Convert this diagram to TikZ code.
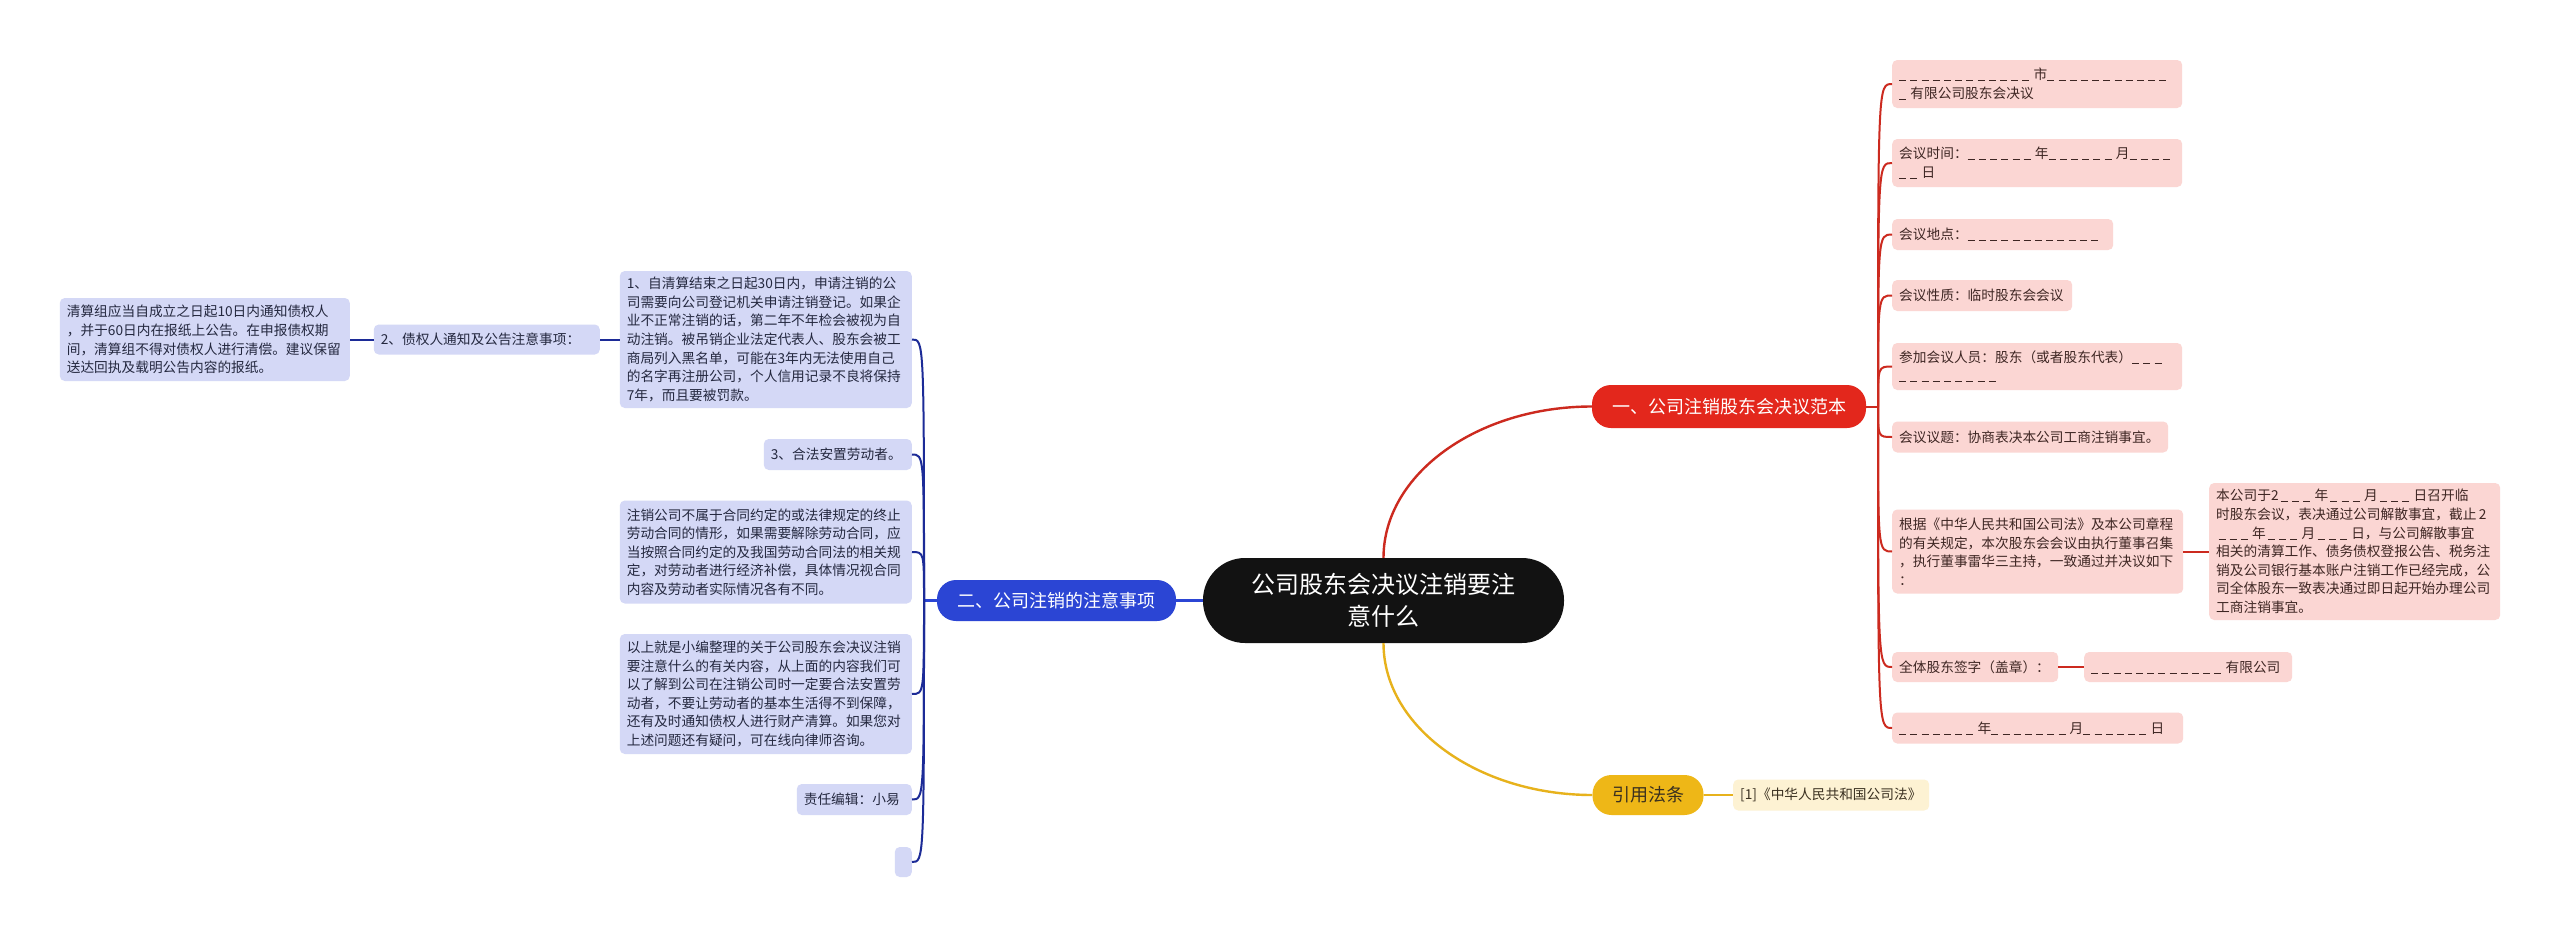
\documentclass[tikz,border=0pt]{standalone}
\usepackage{fontspec}
\newfontfamily\cjk{Noto Sans CJK SC}
\newcommand\usc{\makebox[11.2pt][l]{\rule[-1.5pt]{7pt}{1pt}}}
\definecolor{redmain}{HTML}{E3271C}
\definecolor{redline}{HTML}{CC2A1F}
\definecolor{pinkfill}{HTML}{FBD6D3}
\definecolor{pinktext}{HTML}{3E2623}
\definecolor{bluemain}{HTML}{2B45D4}
\definecolor{blueline}{HTML}{1C2B97}
\definecolor{bluefill}{HTML}{D4D8F6}
\definecolor{bluetext}{HTML}{24283F}
\definecolor{yelmain}{HTML}{EEB717}
\definecolor{yelline}{HTML}{E7B21C}
\definecolor{yelfill}{HTML}{FDF2D3}
\definecolor{yeltext}{HTML}{3A3020}
\definecolor{ctrfill}{HTML}{121212}
\tikzset{
  smalltext/.style={font=\cjk\fontsize{13.7}{18.6}\selectfont},
  pk/.style={rectangle, rounded corners=5pt, fill=pinkfill, text=pinktext, smalltext, align=left, inner xsep=7pt, inner ysep=0pt, anchor=west},
  bl/.style={rectangle, rounded corners=5pt, fill=bluefill, text=bluetext, smalltext, align=left, inner xsep=7pt, inner ysep=0pt, anchor=east},
  yb/.style={rectangle, rounded corners=5pt, fill=yelfill, text=yeltext, smalltext, align=left, inner xsep=7pt, inner ysep=0pt, anchor=west},
  pill/.style={rectangle, rounded corners=19pt, inner sep=0pt, font=\cjk\fontsize{18}{22}\selectfont, align=center},
  ctr/.style={rectangle, rounded corners=42pt, fill=ctrfill, text=white, inner sep=0pt, font=\cjk\fontsize{24}{32}\selectfont, align=center, minimum width=361, minimum height=85},
  rmain/.style={draw=redline, line width=2.4pt},
  rsub/.style={draw=redline, line width=2pt},
  bmain/.style={draw=bluemain, line width=2.4pt},
  bsub/.style={draw=blueline, line width=2pt},
  ymain/.style={draw=yelline, line width=2.4pt},
}
\begin{document}
\begin{tikzpicture}[x=1pt,y=-1pt]
\fill[white] (0,0) rectangle (2560,937);
\useasboundingbox (0,0) rectangle (2560,937);

% central
\node[ctr] (c) at (1383.5,600.5) {公司股东会决议注销要注\\意什么};

% main branches
\node[pill, fill=redmain, text=white, minimum width=274, minimum height=43] (r) at (1729,406.5) {一、公司注销股东会决议范本};
\node[pill, fill=bluemain, text=white, minimum width=239, minimum height=41] (b) at (1056.5,600.5) {二、公司注销的注意事项};
\node[pill, fill=yelmain, text=yeltext, minimum width=111, minimum height=40] (y) at (1648,795) {引用法条};
\node[yb, text width=182, minimum height=31] (y1) at (1733,795) {[1]《中华人民共和国公司法》};

% red children
\node[pk, text width=276, minimum height=48] (r1) at (1892,84) {\usc\usc\usc\usc\usc\usc\usc\usc\usc\usc\usc\usc 市\usc\usc\usc\usc\usc\usc\usc\usc\usc\usc\usc\\\usc 有限公司股东会决议};
\node[pk, text width=276, minimum height=48] (r2) at (1892,163) {会议时间：\usc\usc\usc\usc\usc\usc 年\usc\usc\usc\usc\usc\usc 月\usc\usc\usc\usc\\\usc\usc 日};
\node[pk, text width=207, minimum height=31] (r3) at (1892,234.5) {会议地点：\usc\usc\usc\usc\usc\usc\usc\usc\usc\usc\usc\usc};
\node[pk, text width=166, minimum height=31] (r4) at (1892,295.5) {会议性质：临时股东会会议};
\node[pk, text width=276, minimum height=47] (r5) at (1892,366.5) {参加会议人员：股东（或者股东代表）\usc\usc\usc\\\usc\usc\usc\usc\usc\usc\usc\usc\usc};
\node[pk, text width=262, minimum height=31] (r6) at (1892,437) {会议议题：协商表决本公司工商注销事宜。};
\node[pk, text width=277, minimum height=84] (r7) at (1892,551.5) {根据《中华人民共和国公司法》及本公司章程\\的有关规定，本次股东会会议由执行董事召集\\，执行董事雷华三主持，一致通过并决议如下\\：};
\node[pk, text width=277, minimum height=137] (r7c) at (2209,551.5) {本公司于2\,\usc\usc\usc 年\,\usc\usc\usc 月\,\usc\usc\usc 日召开临\\时股东会议，表决通过公司解散事宜，截止\,2\\\,\usc\usc\usc 年\,\usc\usc\usc 月\,\usc\usc\usc 日，与公司解散事宜\\相关的清算工作、债务债权登报公告、税务注\\销及公司银行基本账户注销工作已经完成，公\\司全体股东一致表决通过即日起开始办理公司\\工商注销事宜。};
\node[pk, text width=152, minimum height=30] (r8) at (1892,667) {全体股东签字（盖章）：};
\node[pk, text width=194, minimum height=30] (r8c) at (2084,667) {\usc\usc\usc\usc\usc\usc\usc\usc\usc\usc\usc\usc 有限公司};
\node[pk, text width=277, minimum height=31] (r9) at (1892,728) {\usc\usc\usc\usc\usc\usc\usc 年\usc\usc\usc\usc\usc\usc\usc 月\usc\usc\usc\usc\usc\usc 日};

% blue children
\node[bl, text width=278, minimum height=137] (b1) at (912,339.5) {1、自清算结束之日起30日内，申请注销的公\\司需要向公司登记机关申请注销登记。如果企\\业不正常注销的话，第二年不年检会被视为自\\动注销。被吊销企业法定代表人、股东会被工\\商局列入黑名单，可能在3年内无法使用自己\\的名字再注册公司，个人信用记录不良将保持\\7年，而且要被罚款。};
\node[bl, text width=212, minimum height=30] (l1) at (600,339.5) {2、债权人通知及公告注意事项：};
\node[bl, text width=276, minimum height=83] (l2) at (350,339.5) {清算组应当自成立之日起10日内通知债权人\\，并于60日内在报纸上公告。在申报债权期\\间，清算组不得对债权人进行清偿。建议保留\\送达回执及载明公告内容的报纸。};
\node[bl, text width=134, minimum height=31] (b2) at (912,454.5) {3、合法安置劳动者。};
\node[bl, text width=278, minimum height=103] (b3) at (912,552) {注销公司不属于合同约定的或法律规定的终止\\劳动合同的情形，如果需要解除劳动合同，应\\当按照合同约定的及我国劳动合同法的相关规\\定，对劳动者进行经济补偿，具体情况视合同\\内容及劳动者实际情况各有不同。};
\node[bl, text width=278, minimum height=120] (b4) at (912,694) {以上就是小编整理的关于公司股东会决议注销\\要注意什么的有关内容，从上面的内容我们可\\以了解到公司在注销公司时一定要合法安置劳\\动者，不要让劳动者的基本生活得不到保障，\\还有及时通知债权人进行财产清算。如果您对\\上述问题还有疑问，可在线向律师咨询。};
\node[bl, text width=101, minimum height=31] (b5) at (912,799.5) {责任编辑：小易};
\node[bl, text width=3, minimum height=30] (b6) at (912,862) {};

% connectors: main
\draw[rmain] (c.north) .. controls +(0,-84) and +(-114,0) .. (r.west);
\draw[ymain] (c.south) .. controls +(0,84) and +(-114,0) .. (y.west);
\draw[bmain] (c.west) -- (b.east);
\draw[ymain] (y.east) -- (y1.west);

% red spine
\coordinate (rs) at (1878,406.5);
\draw[rsub] (r.east) -- (rs);
\foreach \n in {r1,r2,r3,r4,r5,r6,r7,r8,r9}{
  \draw[rsub] (rs) .. controls (rs |- \n.west) and (rs |- \n.west) .. (\n.west);
}
\draw[rsub] (r7.east) -- (r7c.west);
\draw[rsub] (r8.east) -- (r8c.west);

% blue spine
\coordinate (bs) at (924,600.5);
\draw[bmain] (b.west) -- (bs);
\foreach \n in {b1,b2,b3,b4,b5,b6}{
  \draw[bsub] (bs) .. controls (bs |- \n.east) and (bs |- \n.east) .. (\n.east);
}
\draw[bsub] (b1.west) -- (l1.east);
\draw[bsub] (l1.west) -- (l2.east);
\end{tikzpicture}
\end{document}
